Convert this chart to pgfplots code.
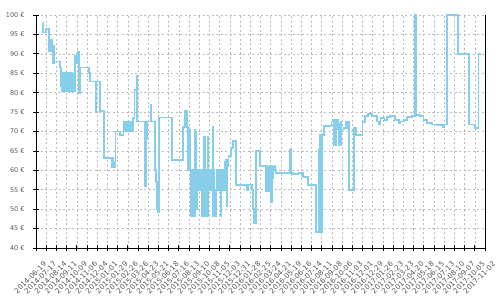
\documentclass[border=0pt]{standalone}
\usepackage{fontspec}
\setmainfont{DejaVu Sans}
\usepackage{pgfplots}
\pgfplotsset{compat=1.18}
\definecolor{pline}{HTML}{87CEEB}
\definecolor{gridc}{HTML}{BBBBBB}
\definecolor{lab}{HTML}{555555}
\begin{document}
\begin{tikzpicture}
\begin{axis}[
  at={(0,0)}, anchor=south west,
  scale only axis, width=449bp, height=233bp,
  xmin=0, xmax=1232, ymin=40, ymax=100,
  clip=false,
  axis line style={draw=none},
  xtick={0,28,...,1232},
  xticklabels={2014-06-19,2014-07-17,2014-08-14,2014-09-11,2014-10-09,2014-11-06,2014-12-04,2015-01-01,2015-01-29,2015-02-26,2015-03-26,2015-04-23,2015-05-21,2015-06-18,2015-07-16,2015-08-13,2015-09-10,2015-10-08,2015-11-05,2015-12-03,2015-12-31,2016-01-28,2016-02-25,2016-03-24,2016-04-21,2016-05-19,2016-06-16,2016-07-14,2016-08-11,2016-09-08,2016-10-06,2016-11-03,2016-12-01,2016-12-29,2017-01-26,2017-02-23,2017-03-23,2017-04-20,2017-05-18,2017-06-15,2017-07-13,2017-08-10,2017-09-07,2017-10-05,2017-11-02},
  ytick={40,45,...,100},
  yticklabels={40 €,45 €,50 €,55 €,60 €,65 €,70 €,75 €,80 €,85 €,90 €,95 €,100 €},
  xtick pos=bottom, ytick pos=left,
  tick align=center, major tick length=6bp,
  tick style={black, line width=0.8bp},
  grid=major,
  major grid style={gridc, dash pattern=on 2bp off 2.5bp, line width=0.6bp},
  ticklabel style={font=\fontsize{6.5}{7}\selectfont, text=lab},
  xticklabel style={font=\fontsize{7.2}{8}\selectfont, xshift=7bp, yshift=-5bp, rotate=45, anchor=north east},
  yticklabel style={xshift=-5bp},
]
\draw[black, line width=1bp] (rel axis cs:0,1) -- (rel axis cs:0,0) -- (rel axis cs:1,0) -- (rel axis cs:1,1);
\addplot[const plot, color=pline, line width=1.8bp] coordinates {
(18,97.9) (19,95.5) (27,96.3) (36,90.6) (38,93.6) (40,90.6) (42,93.6) (43,92) (45,87.6) (47,92) (49,87.6) (50,88) (66,86.5) (68,85) (69,81.6) (70,85) (72,80.4) (74,85) (76,80.4) (78,85) (80,80.4) (82,84.8) (84,80.4) (86,85) (88,80.4) (90,84.8) (92,80.4) (94,85) (96,80.4) (98,85) (100,80.4) (102,84.8) (104,80.4) (106,85) (107,80.4) (108,89.5) (110,87.6) (112,90) (114,88) (116,90.6) (117,88) (118,90.6) (119,79.9) (120,86.5) (145,85) (148,82.9) (164,75.2) (165.5,82.9) (175,75.2) (187,63.2) (208,60.9) (210,63.2) (212,60.9) (214,62) (216,60.9) (218,70) (230,69.2) (240,72.6) (245,70) (247,72.6) (249,70) (251,72.6) (253,70) (255,72.6) (257,70) (259,72.6) (261,70) (267,73.5) (270,80.7) (276,84.2) (277,72.6) (300,56) (302,72.6) (303,68.3) (305,72.6) (314,76.9) (315.5,72.6) (327,60.2) (329,57) (331,54) (333,50) (334,49.2) (337,73.6) (373,62.6) (403,71.2) (409,75.3) (412,71.2) (414,75.3) (415,71.2) (416,60) (418,71) (420,60) (422,70.5) (424,48.2) (426,60) (428,48.2) (430,55) (432,60) (434,48.2) (436,70.5) (437,55) (438,70) (440,50) (441,60) (444,55) (446,60) (448,55) (450,60) (452,55) (454,48.2) (456,60) (458,48.2) (460,60) (462,68.5) (463.5,55) (465,60) (467,48.2) (468,60) (470,48.2) (471,68.5) (473,55) (475,60) (477,55) (479,60) (481,55) (483,60) (485,71.2) (486.5,48.2) (488,60) (490,48.2) (492,55) (494,48.2) (495,60) (497,55) (499,60) (501,55) (503,60) (505,55) (506,48.2) (508,60) (510,55) (512,60) (514,55) (516,60) (518,62.3) (519,55) (520,62.6) (523,50.8) (524,61) (528,63.6) (535,65.7) (540,67.5) (549,56.2) (579,55) (582,56.2) (592,55) (595,50) (599,46.3) (604,65) (615,61.1) (631,54.6) (633,61.1) (635,54.6) (637,61) (639,56) (641,61.1) (643,54.6) (645,51.8) (647,61.1) (649,58) (651,61) (653,60) (655,61.1) (657,60) (659,59.3) (697,65.2) (700,59.3) (706,59) (720,59.3) (733,58.2) (747,56.3) (768,44.1) (777,65.3) (779,69.2) (783,44.1) (785,69.2) (790,71.4) (811,72.6) (816,73) (818,66.6) (820,73) (822,66.6) (824,71) (826,73) (828,70.5) (830,66.6) (832,72) (834,66.6) (836,72.6) (838,70) (839,70.5) (845,71) (850,72.4) (853,71) (856,72.4) (859,55) (873,71) (877,69.2) (896,72.4) (902,73.9) (911,74.6) (923,73.9) (935,72.6) (942,71.8) (945,73.5) (956,73) (963,73.7) (972,73.9) (986,73) (995,72.2) (1000,72.6) (1009,73) (1018,73.7) (1032,73.9) (1039,100) (1043,74.3) (1054,73.9) (1063,73) (1073,72.2) (1086,71.8) (1100,71.6) (1116,71.2) (1121,71.8) (1128,100) (1158,90) (1187,71.8) (1205,70.9) (1214,90) (1222,90)
};
\end{axis}
\pgfresetboundingbox
\path (-36bp,-52bp) rectangle (464bp,248bp);
\end{tikzpicture}
\end{document}
